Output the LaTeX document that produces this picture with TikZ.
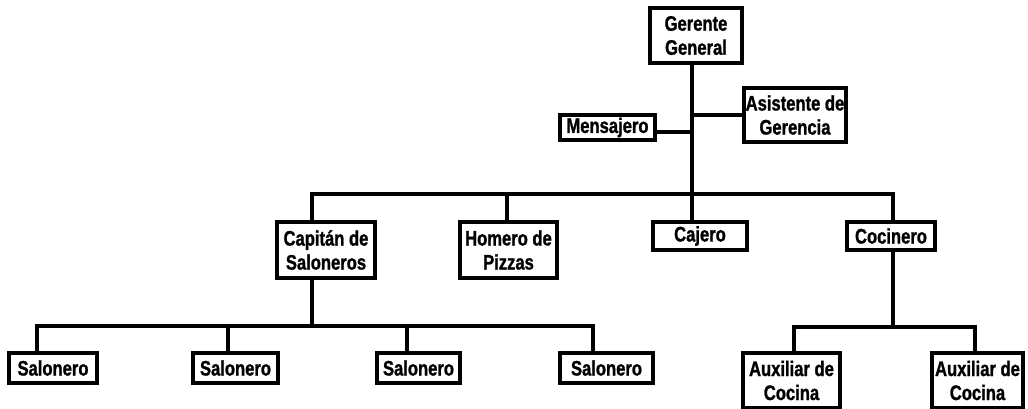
\documentclass[tikz,border=0pt]{standalone}
\usepackage{fontspec}
\newfontfamily\orgfont[FakeStretch=0.79,FakeBold=1.2]{Liberation Sans}
\begin{document}
\begin{tikzpicture}[x=1pt,y=-1pt,
  box/.style={draw,line width=3.4pt,inner sep=0pt,align=center,
    font=\orgfont\bfseries\fontsize{21}{24}\selectfont},
  link/.style={line width=3.4pt,line join=miter}]
\useasboundingbox (0,0) rectangle (1028,409);
% nodes
\node[box,minimum width=92pt,minimum height=55pt] (gg) at (696,35.5) {Gerente\\General};
\node[box,minimum width=95pt,minimum height=25pt] (men) at (607.5,127.5) {Mensajero};
\node[box,minimum width=102pt,minimum height=54pt] (asi) at (795,115) {Asistente de\\Gerencia};
\node[box,minimum width=98pt,minimum height=56pt] (cap) at (326,250) {Capit\'an de\\Saloneros};
\node[box,minimum width=97pt,minimum height=56pt] (hom) at (508.5,250) {Homero de\\Pizzas};
\node[box,minimum width=94pt,minimum height=28pt] (caj) at (700,236) {Cajero};
\node[box,minimum width=88pt,minimum height=28pt] (coc) at (891,236) {Cocinero};
\node[box,minimum width=88pt,minimum height=30pt] (s1) at (53,368) {Salonero};
\node[box,minimum width=85pt,minimum height=30pt] (s2) at (235.5,368) {Salonero};
\node[box,minimum width=83pt,minimum height=30pt] (s3) at (418.5,368) {Salonero};
\node[box,minimum width=93pt,minimum height=30pt] (s4) at (606.5,368) {Salonero};
\node[box,minimum width=97pt,minimum height=55pt] (a1) at (791.5,380.5) {Auxiliar de\\Cocina};
\node[box,minimum width=91pt,minimum height=55pt] (a2) at (977.5,380.5) {Auxiliar de\\Cocina};
% bus coordinates
\coordinate (t) at (692,194);
\coordinate (tm) at (692,132);
\coordinate (ta) at (692,115);
\coordinate (b1) at (312,194);
\coordinate (b2) at (507,194);
\coordinate (b3) at (692,194);
\coordinate (b4) at (893,194);
\coordinate (c0) at (312,326);
\coordinate (c1) at (37,326);
\coordinate (c2) at (228,326);
\coordinate (c3) at (407,326);
\coordinate (c4) at (593,326);
\coordinate (d0) at (893,327);
\coordinate (d1) at (794,327);
\coordinate (d2) at (975,327);
% connectors
\draw[link] (gg.south -| t) -- (t);
\draw[link] (men.east |- tm) -- (tm);
\draw[link] (asi.west |- ta) -- (ta);
\draw[link] (cap.north -| b1) -- (b1) -- (b4) -- (coc.north -| b4);
\draw[link] (b2) -- (hom.north -| b2);
\draw[link] (b3) -- (caj.north -| b3);
\draw[link] (cap.south -| c0) -- (c0);
\draw[link] (s1.north -| c1) -- (c1) -- (c4) -- (s4.north -| c4);
\draw[link] (c2) -- (s2.north -| c2);
\draw[link] (c3) -- (s3.north -| c3);
\draw[link] (coc.south -| d0) -- (d0);
\draw[link] (a1.north -| d1) -- (d1) -- (d2) -- (a2.north -| d2);
\end{tikzpicture}
\end{document}
